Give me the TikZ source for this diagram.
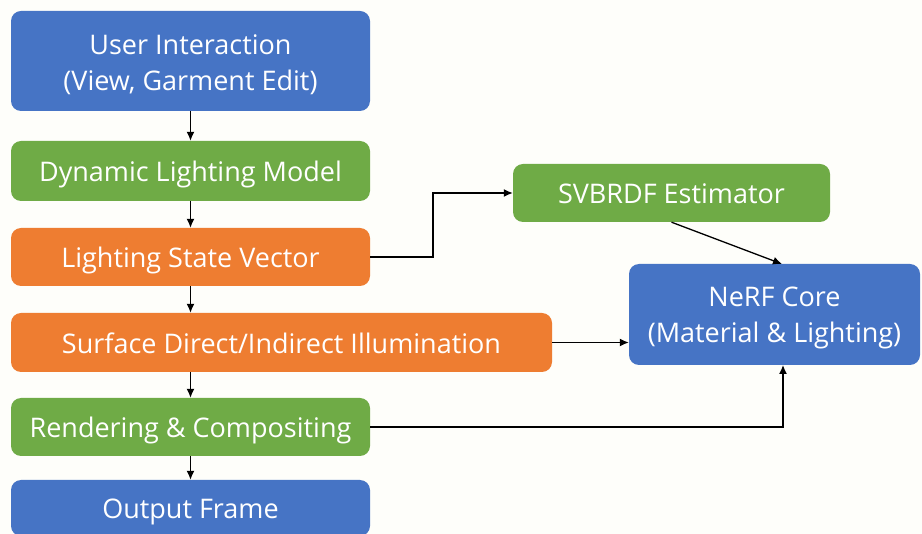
\documentclass[tikz,border=0pt]{standalone}
\usepackage{fontspec}
\setmainfont{Open Sans}
\usetikzlibrary{arrows.meta,calc}
\definecolor{boxblue}{HTML}{4674C5}
\definecolor{boxgreen}{HTML}{6FAB46}
\definecolor{boxorange}{HTML}{EE7D31}
\definecolor{paper}{HTML}{FEFEFA}
\newcommand{\firststrut}{\rule{0pt}{27pt}}
\tikzset{
  blk/.style={rectangle, rounded corners=10pt, draw=none, text=white,
    font=\fontsize{27}{36}\selectfont, align=center, inner sep=0pt,
    text height=26pt, text depth=4pt},
  twoline/.style={text height=, text depth=},
  bluebox/.style={blk, fill=boxblue},
  greenbox/.style={blk, fill=boxgreen},
  orangebox/.style={blk, fill=boxorange},
  arr/.style={draw=black, line width=1.3pt, -{Latex[length=9pt,width=8pt]}},
}
\begin{document}
\begin{tikzpicture}[x=1pt,y=-1pt]
  \fill[paper] (0,0) rectangle (922,534);
  \useasboundingbox (0,0) rectangle (922,534);

  % main pipeline column
  \node[bluebox, twoline, minimum width=359pt, minimum height=100pt] (ui) at (190.5,61)
    {\firststrut User Interaction\\(View, Garment Edit)};
  \node[greenbox, minimum width=359pt, minimum height=60pt] (dlm) at (190.5,171)
    {Dynamic Lighting Model};
  \node[orangebox, minimum width=359pt, minimum height=58pt] (lsv) at (190.5,257)
    {Lighting State Vector};
  \node[orangebox, minimum width=541pt, minimum height=59pt] (sdi) at (281.5,342.5)
    {Surface Direct/Indirect Illumination};
  \node[greenbox, minimum width=359pt, minimum height=58pt] (rc) at (190.5,427)
    {Rendering \& Compositing};
  \node[bluebox, minimum width=359pt, minimum height=56pt] (of) at (190.5,508)
    {Output Frame};

  % side branch
  \node[greenbox, minimum width=317pt, minimum height=58pt] (sv) at (671.5,193)
    {SVBRDF Estimator};
  \node[bluebox, twoline, minimum width=291pt, minimum height=101pt] (nerf) at (774.5,314.5)
    {\firststrut NeRF Core\\(Material \& Lighting)};

  \coordinate (bend) at (433,257);
  \coordinate (ntop) at (782,264);
  \coordinate (nbot) at (783,365);

  \draw[arr] (ui) -- (dlm);
  \draw[arr] (dlm) -- (lsv);
  \draw[arr] (lsv) -- (sdi.north -| lsv);
  \draw[arr] (sdi.south -| rc) -- (rc);
  \draw[arr] (rc) -- (of);

  \draw[arr] (lsv.east) -- (bend) |- (sv.west);
  \draw[arr] (sv.south) -- (ntop);
  \draw[arr] (sdi.east) -- (sdi.east -| nerf.west);
  \draw[arr] (rc.east) -| (nbot);
\end{tikzpicture}
\end{document}
